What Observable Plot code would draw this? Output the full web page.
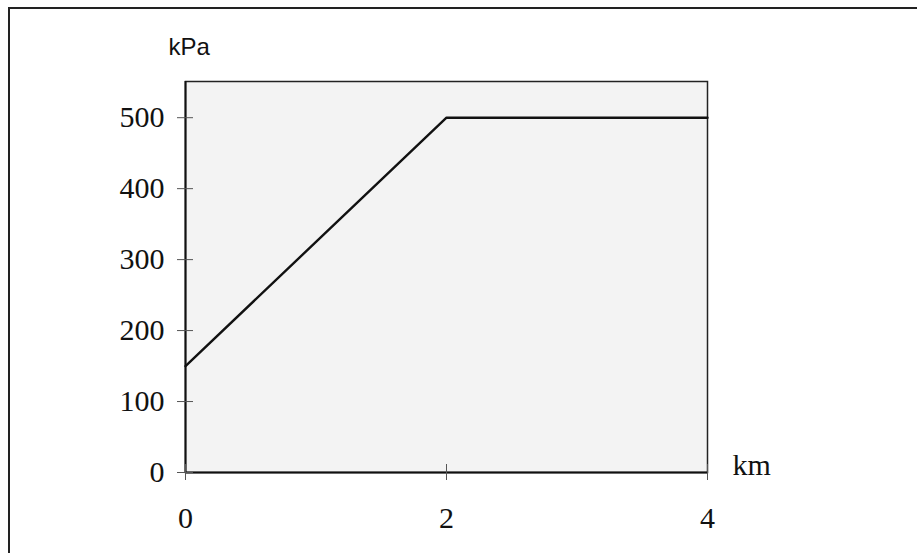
<!DOCTYPE html>
<html>
<head>
<meta charset="utf-8">
<script src="https://cdn.jsdelivr.net/npm/d3@7"></script>
<script src="https://cdn.jsdelivr.net/npm/@observablehq/plot@0.6"></script>
<style>
  html, body { margin: 0; padding: 0; background: #fff; }
  #wrap { position: relative; width: 917px; height: 553px; overflow: hidden; }
  #border { position: absolute; left: 8px; top: 7px; width: 1000px; height: 1000px;
            border-top: 2px solid #222; border-left: 2px solid #222; pointer-events: none; }
  svg { display: block; }
</style>
</head>
<body>
<div id="wrap"><div id="border"></div></div>
<script>
const distanceKm = [0, 2, 4];
const pressureKPa = [150, 500, 500];
const xTicks = [0, 2, 4];
const yTicks = [0, 100, 200, 300, 400, 500];
const yLabel = "kPa";
const xLabel = "km";

const data = distanceKm.map((x, i) => ({x, y: pressureKPa[i]}));

const serif = "'Liberation Serif', 'Times New Roman', serif";

const chart = Plot.plot({
  width: 917,
  height: 553,
  marginLeft: 185,
  marginRight: 210,
  marginTop: 81,
  marginBottom: 81,
  style: {background: "transparent", color: "#111"},
  x: {domain: [0, 4], label: null},
  y: {domain: [0, 551], label: null},
  marks: [
    Plot.frame({fill: "#f3f3f3", stroke: "#222", strokeWidth: 1.5}),
    Plot.ruleX([0], {stroke: "#111", strokeWidth: 2}),
    Plot.ruleY([0], {stroke: "#111", strokeWidth: 2}),
    Plot.axisY({ticks: yTicks, tickFormat: d3.format("d"), tickSize: 16, dx: 8, tickPadding: 13,
      fontSize: 30, fontFamily: serif, stroke: "#555", label: null}),
    Plot.axisX({ticks: xTicks, tickFormat: d3.format("d"), tickSize: 16, dy: -8, tickPadding: 26,
      fontSize: 30, fontFamily: serif, stroke: "#555", label: null}),
    Plot.line(data, {x: "x", y: "y", stroke: "#111", strokeWidth: 2.4}),
    Plot.text([yLabel], {frameAnchor: "top-left", text: d => d, textAnchor: "start",
      lineAnchor: "middle", dx: -17, dy: -34, fontSize: 24,
      fontFamily: "'Liberation Sans', Arial, sans-serif", fill: "#111"}),
    Plot.text([xLabel], {frameAnchor: "bottom-right", text: d => d, textAnchor: "start",
      lineAnchor: "middle", dx: 25, dy: -7, fontSize: 30, fontFamily: serif, fill: "#111"})
  ]
});
document.getElementById("wrap").prepend(chart);
</script>
</body>
</html>
